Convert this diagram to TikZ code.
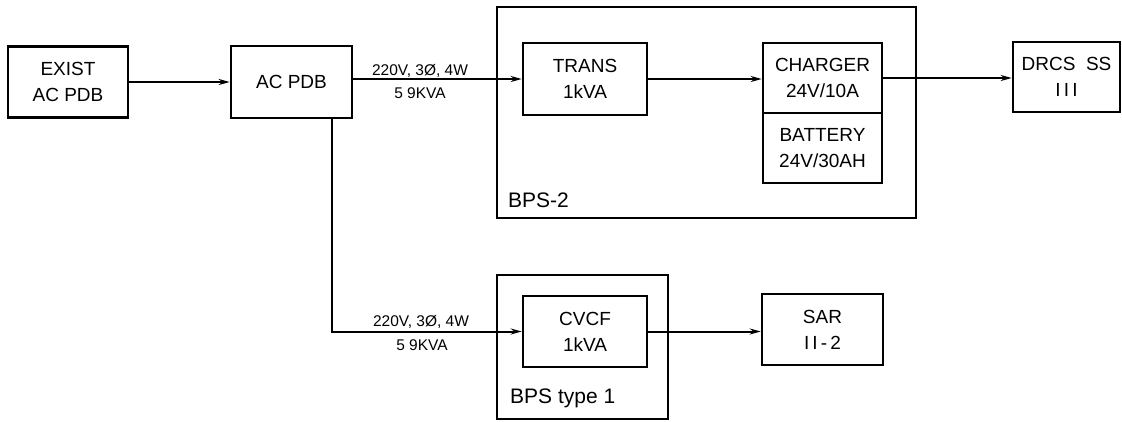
\documentclass[tikz,border=0pt]{standalone}
\usepackage{fontspec}
\setmainfont{Liberation Sans}
\usetikzlibrary{arrows.meta}
\begin{document}
\begin{tikzpicture}[x=1pt,y=-1pt,
  box/.style={draw, line width=2.6pt, inner sep=0pt, align=center,
    font=\fontsize{19}{26}\selectfont},
  wire/.style={line width=2pt, -{Stealth[length=11pt,width=6pt]}},
  lbl/.style={font=\fontsize{15.5}{18}\selectfont, inner sep=0pt},
  grp/.style={draw, line width=2.2pt, inner sep=0pt},
  grplbl/.style={font=\fontsize{21}{24}\selectfont, anchor=west, inner sep=0pt}]
\useasboundingbox (0,0) rectangle (1122,421);

% groups
\node[grp, minimum width=419pt, minimum height=211pt] (bps2) at (706.5,112.5) {};
\node[grplbl] (bps2lbl) at (508,200) {BPS-2};
\node[grp, minimum width=171pt, minimum height=144pt] (bps1) at (582.5,347) {};
\node[grplbl] (bps1lbl) at (510,398) {BPS type 1};

% boxes
\node[box, minimum width=120pt, minimum height=71pt] (exist) at (68,82) {EXIST\\AC PDB};
\node[box, minimum width=121pt, minimum height=72pt] (acpdb) at (291.5,82) {AC PDB};
\node[box, minimum width=124pt, minimum height=72pt] (trans) at (585,79) {TRANS\\1kVA};
\node[box, minimum width=119pt, minimum height=70pt] (charger) at (822.5,78) {CHARGER\\24V/10A};
\node[box, minimum width=119pt, minimum height=70pt] (battery) at (822.5,148) {BATTERY\\24V/30AH};
\node[box, minimum width=107pt, minimum height=70pt] (drcs) at (1066.5,77) {DRCS\ \ SS\\I\,I\,I};
\node[box, minimum width=124pt, minimum height=71pt] (cvcf) at (585,331.5) {CVCF\\1kVA};
\node[box, minimum width=121pt, minimum height=71pt] (sar) at (822.5,329.5) {SAR\\I\,I\,-\,2};

% connectors
\draw[wire] (exist) -- (acpdb);
\draw[wire] (acpdb.east |- trans.west) -- (trans.west);
\draw[wire] (trans.east) -- (trans.east -| charger.west);
\draw[wire] (charger.east) -- (charger.east -| drcs.west);
\coordinate (drop) at ([xshift=40.5pt]acpdb.south);
\draw[wire] (drop) |- (cvcf.west);
\draw[wire] (cvcf.east) -- (cvcf.east -| sar.west);

% line labels
\node[lbl] (v1) at (420,71) {220V, 3Ø, 4W};
\node[lbl] (k1) at (420,93) {5 9KVA};
\node[lbl] (v2) at (421,322) {220V, 3Ø, 4W};
\node[lbl] (k2) at (422,345) {5 9KVA};
\end{tikzpicture}
\end{document}
